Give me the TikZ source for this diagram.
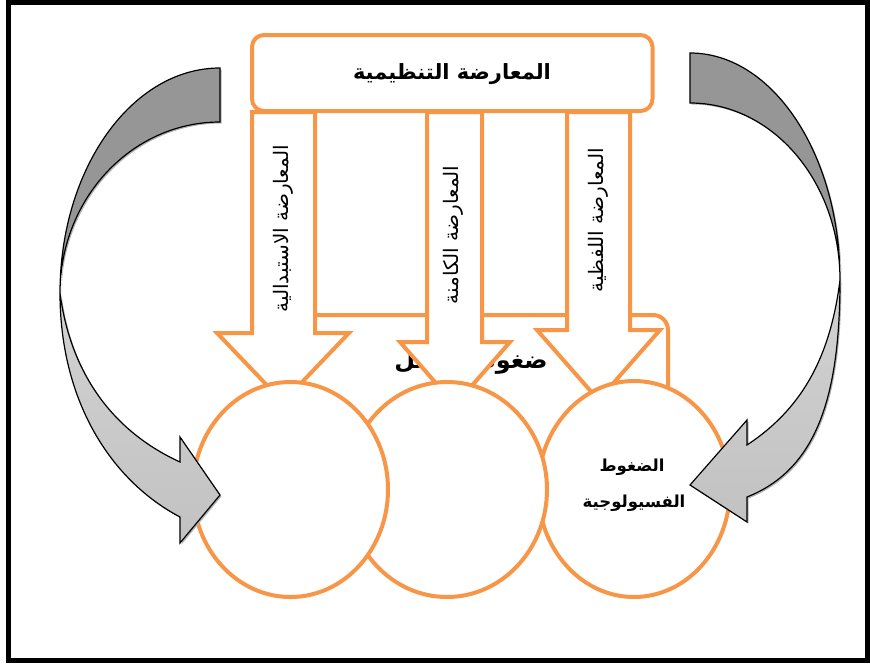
\documentclass[tikz,border=0pt]{standalone}
\usepackage{fontspec}
\newfontfamily\arabicfont[Script=Arabic]{DejaVu Sans}
\TeXXeTstate=1
\usetikzlibrary{shapes.geometric}
\definecolor{boxorange}{HTML}{F79646}
\definecolor{backgray}{HTML}{969696}
\newcommand{\arb}[1]{{\arabicfont\beginR #1\endR}}

\begin{document}
\begin{tikzpicture}[x=1pt,y=-1pt,
  orangeline/.style={draw=boxorange,line width=4pt,fill=white},
  bubble/.style={ellipse,draw=boxorange,line width=4pt,fill=white,inner sep=0pt},
  vlabel/.style={rotate=90,font=\fontsize{20}{22}\selectfont},
  bigtext/.style={font=\bfseries\fontsize{21}{25}\selectfont},
  smalltext/.style={font=\bfseries\fontsize{16.5}{19}\selectfont},
  backpart/.style={draw=black,line width=1.2pt,fill=backgray},
  frontpart/.style={draw=black,line width=1.2pt,top color=gray!35,bottom color=gray!48},
  shadowpart/.style={fill=gray!60,draw=none}]
\useasboundingbox (0,0) rectangle (870,664);
\draw[line width=5pt] (8.5,2.5) rectangle (867.5,660.5);

% work pressures box, behind the arrows
\draw[orangeline,rounded corners=15pt] (290,480) -- (290,315) -- (668,315) -- (668,480) -- cycle;
\node[bigtext,font=\bfseries\fontsize{24}{28}\selectfont] (work) at (471,362) {\arb{ضغوط العمل}};

% block arrows
\foreach \sl/\sr/\hl/\hr/\hb/\tx/\ty in {252/315/217/349/333/283/402,
    427/482/400/510/342/455/405, 567/630/537/660/330/598.5/400}
  \draw[orangeline] (\sl,112) -- (\sr,112) -- (\sr,\hb) -- (\hr,\hb) -- (\tx,\ty)
    -- (\hl,\hb) -- (\sl,\hb) -- cycle;

\draw[orangeline,rounded corners=12pt] (252,35) rectangle (652.5,111);
\node[bigtext] (org) at (452,74) {\arb{المعارضة التنظيمية}};

\node[vlabel] (subst) at (283,229) {\arb{المعارضة الاستبدالية}};
\node[vlabel] (latent) at (453,235) {\arb{المعارضة الكامنة}};
\node[vlabel] (verbal) at (598,220) {\arb{المعارضة اللفظية}};

% circles
\node[bubble,minimum width=192pt,minimum height=216pt] (phys) at (634,489) {};
\node[bubble,minimum width=200pt,minimum height=215pt] (mid) at (447,489.5) {};
\node[bubble,minimum width=195pt,minimum height=215pt] (left) at (290.5,489.5) {};
\node[smalltext] (phys1) at (632,467) {\arb{الضغوط}};
\node[smalltext] (phys2) at (634,503) {\arb{الفسيولوجية}};

% left curved arrow
\begin{scope}[shift={(1.5,1.5)}]
\fill[shadowpart] (220,68) .. controls (131.6,68) and (60,168.7) .. (60,293)
  .. controls (60,400) and (110,480) .. (180,517) -- (180,543) -- (220,495)
  -- (180,437) -- (180,462) .. controls (110,430) and (70,370) .. (60,293)
  .. controls (60,198.6) and (131.6,122) .. (220,122) -- cycle;
\end{scope}
\draw[backpart] (220,68) .. controls (131.6,68) and (60,168.7) .. (60,293)
  .. controls (60,198.6) and (131.6,122) .. (220,122) -- cycle;
\draw[frontpart] (60,293) .. controls (60,400) and (110,480) .. (180,517)
  -- (180,543) -- (220,495) -- (180,437) -- (180,462)
  .. controls (110,430) and (70,370) .. (60,293) -- cycle;

% right curved arrow
\begin{scope}[shift={(1.5,1.5)}]
\fill[shadowpart] (690,53) .. controls (773,53) and (840,155) .. (840,280)
  .. controls (840,400) and (815,470) .. (747,497) -- (747,522) -- (690,485)
  -- (747,420) -- (747,445) .. controls (800,410) and (830,360) .. (840,280)
  .. controls (840,182) and (773,103) .. (690,103) -- cycle;
\end{scope}
\draw[backpart] (690,53) .. controls (773,53) and (840,155) .. (840,280)
  .. controls (840,182) and (773,103) .. (690,103) -- cycle;
\draw[frontpart] (840,280) .. controls (840,400) and (815,470) .. (747,497)
  -- (747,522) -- (690,485) -- (747,420) -- (747,445)
  .. controls (800,410) and (830,360) .. (840,280) -- cycle;
\end{tikzpicture}
\end{document}
